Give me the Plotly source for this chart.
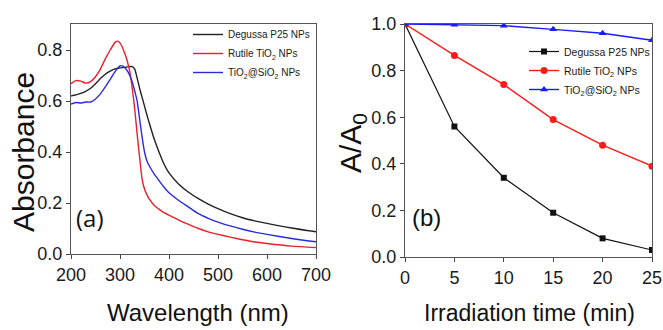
import plotly.graph_objects as go

# ---------------- data: panel (a) UV-vis absorbance ----------------
wavelength = [200, 210, 220, 230, 240, 250, 260, 270, 280, 290, 295, 300, 305, 310, 315, 320, 325,
              330, 335, 340, 345, 350, 355, 360, 370, 380, 390, 400, 420, 440, 460, 480, 500,
              525, 550, 575, 600, 650, 700]
abs_rutile = [0.668, 0.680, 0.678, 0.670, 0.676, 0.695, 0.725, 0.765, 0.800, 0.830, 0.835, 0.828, 0.810,
              0.785, 0.755, 0.715, 0.650, 0.570, 0.470, 0.380, 0.295, 0.255, 0.232, 0.215, 0.190,
              0.175, 0.162, 0.152, 0.133, 0.116, 0.100, 0.087, 0.077, 0.066, 0.056, 0.047, 0.041,
              0.031, 0.025]
abs_p25 = [0.620, 0.624, 0.630, 0.638, 0.650, 0.668, 0.688, 0.705, 0.717, 0.726, 0.728, 0.730, 0.731,
           0.732, 0.734, 0.735, 0.735, 0.725, 0.690, 0.650, 0.615, 0.580, 0.545, 0.512, 0.450,
           0.398, 0.352, 0.318, 0.274, 0.242, 0.217, 0.196, 0.178, 0.158, 0.142, 0.130, 0.120,
           0.102, 0.087]
abs_core = [0.588, 0.594, 0.592, 0.596, 0.596, 0.608, 0.628, 0.655, 0.685, 0.715, 0.728, 0.738, 0.738,
            0.730, 0.718, 0.700, 0.675, 0.640, 0.600, 0.530, 0.460, 0.400, 0.365, 0.345, 0.313,
            0.287, 0.262, 0.240, 0.210, 0.184, 0.158, 0.140, 0.125, 0.110, 0.097, 0.086, 0.077,
            0.061, 0.048]

# ---------------- data: panel (b) photodegradation ----------------
time_min = [0, 5, 10, 15, 20, 25]
ratio_p25 = [1.0, 0.56, 0.34, 0.19, 0.08, 0.03]
ratio_rutile = [1.0, 0.865, 0.74, 0.59, 0.48, 0.39]
ratio_core = [1.0, 0.997, 0.993, 0.977, 0.96, 0.93]

name_p25 = "Degussa P25 NPs"
name_rutile = "Rutile TiO<sub>2</sub> NPs"
name_core = "TiO<sub>2</sub>@SiO<sub>2</sub> NPs"

W, H = 663, 330
REG = "Liberation Sans, Arial"

fig = go.Figure()

# panel (a)
fig.add_trace(go.Scatter(x=wavelength, y=abs_p25, mode="lines", name=name_p25,
                         line=dict(color="#222222", width=1.4, shape="spline", smoothing=0.6),
                         xaxis="x", yaxis="y", legend="legend"))
fig.add_trace(go.Scatter(x=wavelength, y=abs_rutile, mode="lines", name=name_rutile,
                         line=dict(color="#e8202a", width=1.4, shape="spline", smoothing=0.6),
                         xaxis="x", yaxis="y", legend="legend"))
fig.add_trace(go.Scatter(x=wavelength, y=abs_core, mode="lines", name=name_core,
                         line=dict(color="#2a2ae0", width=1.4, shape="spline", smoothing=0.6),
                         xaxis="x", yaxis="y", legend="legend"))

# panel (b)
fig.add_trace(go.Scatter(x=time_min, y=ratio_p25, mode="lines+markers", name=name_p25,
                         line=dict(color="#111111", width=1.2),
                         marker=dict(symbol="square", size=6, color="#111111"),
                         xaxis="x2", yaxis="y2", legend="legend2"))
fig.add_trace(go.Scatter(x=time_min, y=ratio_rutile, mode="lines+markers", name=name_rutile,
                         line=dict(color="#ff1a1a", width=1.4),
                         marker=dict(symbol="circle", size=7, color="#ff1a1a"),
                         xaxis="x2", yaxis="y2", legend="legend2"))
fig.add_trace(go.Scatter(x=time_min, y=ratio_core, mode="lines+markers", name=name_core,
                         line=dict(color="#1a1aff", width=1.4),
                         marker=dict(symbol="triangle-up", size=7, color="#1a1aff"),
                         xaxis="x2", yaxis="y2", legend="legend2"))

axis_common = dict(showline=True, linecolor="#555555", linewidth=1.2, mirror=True,
                   ticks="outside", ticklen=4, tickwidth=1, tickcolor="#444444",
                   showgrid=False, zeroline=False, automargin=False,
                   tickfont=dict(family=REG, size=18, color="#1a1a1a"))

fig.update_layout(
    width=W, height=H,
    margin=dict(l=0, r=0, t=0, b=0, autoexpand=False),
    paper_bgcolor="white", plot_bgcolor="white",
    xaxis=dict(domain=[71 / W, 316 / W], range=[200, 700], tickvals=[200, 300, 400, 500, 600, 700],
               anchor="y", **axis_common),
    yaxis=dict(domain=[1 - 254 / H, 1 - 24 / H], range=[0, 0.902], tickvals=[0, 0.2, 0.4, 0.6, 0.8],
               tickformat=".1f", anchor="x", **axis_common),
    xaxis2=dict(domain=[405 / W, 652 / W], range=[0, 25], tickvals=[0, 5, 10, 15, 20, 25],
                anchor="y2", **axis_common),
    yaxis2=dict(domain=[1 - 257 / H, 1 - 24 / H], range=[0, 1.0], tickvals=[0, 0.2, 0.4, 0.6, 0.8, 1.0],
                tickformat=".1f", anchor="x2", **axis_common),
    legend=dict(x=188 / W, y=1 - 20 / H, xanchor="left", yanchor="top", bgcolor="rgba(0,0,0,0)",
                font=dict(family=REG, size=10, color="#1a1a1a"), tracegroupgap=0),
    legend2=dict(x=524 / W, y=1 - 37 / H, xanchor="left", yanchor="top", bgcolor="rgba(0,0,0,0)",
                 font=dict(family=REG, size=10.5, color="#1a1a1a"), tracegroupgap=0),
    showlegend=True,
)

annotations = [
    dict(text="Absorbance", x=23 / W, y=1 - 152 / H, xref="paper", yref="paper", showarrow=False,
         textangle=-90, font=dict(family=REG, size=30, color="#111111"), xanchor="center", yanchor="middle"),
    dict(text="Wavelength (nm)", x=198 / W, y=1 - 312 / H, xref="paper", yref="paper", showarrow=False,
         font=dict(family=REG, size=24, color="#111111"), xanchor="center", yanchor="middle"),
    dict(text="A/A<sub>0</sub>", x=352 / W, y=1 - 143 / H, xref="paper", yref="paper", showarrow=False,
         textangle=-90, font=dict(family=REG, size=30, color="#111111"), xanchor="center", yanchor="middle"),
    dict(text="Irradiation time (min)", x=529 / W, y=1 - 313 / H, xref="paper", yref="paper", showarrow=False,
         font=dict(family=REG, size=23, color="#111111"), xanchor="center", yanchor="middle"),
    dict(text="(a)", x=90 / W, y=1 - 217 / H, xref="paper", yref="paper", showarrow=False,
         font=dict(family="Open Sans, Liberation Sans", size=24, color="#111111"), xanchor="center", yanchor="middle"),
    dict(text="(b)", x=426 / W, y=1 - 217 / H, xref="paper", yref="paper", showarrow=False,
         font=dict(family=REG, size=24, color="#111111"), xanchor="center", yanchor="middle"),
]
fig.update_layout(annotations=annotations)

fig.write_html("out.html", config={"displayModeBar": False},
               post_script="document.body.style.margin='0';document.body.style.overflow='hidden';")
